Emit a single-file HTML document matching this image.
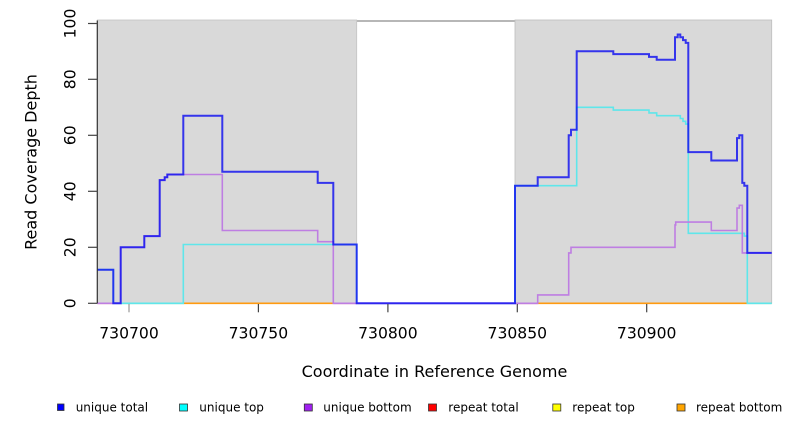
<!DOCTYPE html>
<html>
<head>
<meta charset="utf-8">
<style>
  html,body{margin:0;padding:0;background:#fff;}
  svg{display:block;}
  text{font-family:"DejaVu Sans","Liberation Sans",sans-serif;fill:#000;}
</style>
</head>
<body>
<svg width="792" height="432" viewBox="0 0 792 432" xmlns="http://www.w3.org/2000/svg">
  <line x1="97.3" y1="21" x2="771.7" y2="21" stroke="#8c8c8c" stroke-width="1.2"/>
  <rect x="97.3" y="20" width="259.4" height="283.3" fill="#d9d9d9" stroke="#c4c4c4" stroke-width="0.8"/>
  <rect x="515" y="20" width="256.7" height="283.3" fill="#d9d9d9" stroke="#bdbdbd" stroke-width="0.8"/>

  <g stroke-width="1.6" fill="none">
    <line x1="97.3" y1="303.3" x2="113.3" y2="303.3" stroke="#e0708a"/>
    <line x1="120.7" y1="303.3" x2="183.3" y2="303.3" stroke="#78d49a"/>
    <line x1="183.3" y1="303.3" x2="333.3" y2="303.3" stroke="#ff9a10"/>
    <line x1="333.3" y1="303.3" x2="356.7" y2="303.3" stroke="#d0508a"/>
    <line x1="515" y1="303.3" x2="537.7" y2="303.3" stroke="#d0508a"/>
    <line x1="537.7" y1="303.3" x2="747.3" y2="303.3" stroke="#ff9a10"/>
    <line x1="747.3" y1="303.3" x2="771.7" y2="303.3" stroke="#80d0a0"/>
  </g>

  <path fill="none" stroke="#5fe6ea" stroke-width="1.6" stroke-linejoin="miter"
    d="M97.3,269.7 H113.3 V303.3 H183.3 V244.5 H356.7 V303.3 H515 V185.7 H576.7 V107.3 H613.3 V110.1 H649 V112.9 H656.7 V115.7 H680.3 V118.5 H683 V121.3 H685.7 V124.1 H688.3 V233.3 H744.3 V236.1 H747.3 V303.3 H771.7"/>

  <path fill="none" stroke="#be7ee2" stroke-width="1.6" stroke-linejoin="miter"
    d="M97.3,303.3 H120.7 V247.3 H144.3 V236.1 H159.7 V180.1 H164.7 V177.3 H167.3 V174.5 H222.3 V230.5 H317.7 V241.7 H333.3 V303.3 H537.7 V294.9 H568.7 V252.9 H571 V247.3 H675 V224.9 H675.7 V222.1 H711.3 V230.5 H737 V208.1 H739.3 V205.3 H742.3 V252.9 H771.7"/>

  <path fill="none" stroke="#1010f0" stroke-opacity="0.82" stroke-width="2" stroke-linejoin="miter"
    d="M97.3,269.7 H113.3 V303.3 H120.7 V247.3 H144.3 V236.1 H159.7 V180.1 H164.7 V177.3 H167.3 V174.5 H183.3 V115.7 H222.3 V171.7 H317.7 V182.9 H333.3 V244.5 H356.7 V303.3 H515 V185.7 H537.7 V177.3 H568.7 V135.3 H571 V129.7 H576.7 V51.3 H613.3 V54.1 H649 V56.9 H656.7 V59.7 H675 V37.3 H677.7 V34.5 H680.3 V37.3 H683 V40.1 H685.7 V42.9 H688.3 V152.1 H711.3 V160.5 H737 V138.1 H739.3 V135.3 H742.3 V182.9 H744.3 V185.7 H747.3 V252.9 H771.7"/>

  <line x1="97.3" y1="20.5" x2="97.3" y2="303.3" stroke="#333" stroke-width="1.2"/>
  <g stroke="#444" stroke-width="1.2">
    <line x1="88" y1="303.3" x2="97.3" y2="303.3"/>
    <line x1="88" y1="247.3" x2="97.3" y2="247.3"/>
    <line x1="88" y1="191.3" x2="97.3" y2="191.3"/>
    <line x1="88" y1="135.3" x2="97.3" y2="135.3"/>
    <line x1="88" y1="79.3" x2="97.3" y2="79.3"/>
    <line x1="88" y1="23.5" x2="97.3" y2="23.5"/>
  </g>
  <g font-size="15.6" text-anchor="middle">
    <text transform="translate(75.5,303.3) rotate(-90)">0</text>
    <text transform="translate(75.5,247.3) rotate(-90)">20</text>
    <text transform="translate(75.5,191.3) rotate(-90)">40</text>
    <text transform="translate(75.5,135.3) rotate(-90)">60</text>
    <text transform="translate(75.5,79.3) rotate(-90)">80</text>
    <text transform="translate(75.5,23.5) rotate(-90)">100</text>
  </g>
  <text font-size="16" text-anchor="middle" transform="translate(36.5,162) rotate(-90)">Read Coverage Depth</text>

  <g stroke="#444" stroke-width="1.2">
    <line x1="129" y1="304" x2="129" y2="312.3" stroke="#999"/>
    <line x1="258.4" y1="304" x2="258.4" y2="312.3"/>
    <line x1="387.9" y1="304" x2="387.9" y2="312.3"/>
    <line x1="517.3" y1="304" x2="517.3" y2="312.3"/>
    <line x1="646.7" y1="304" x2="646.7" y2="312.3"/>
  </g>
  <g font-size="15.6" text-anchor="middle">
    <text x="129" y="338.3">730700</text>
    <text x="258.4" y="338.3">730750</text>
    <text x="387.9" y="338.3">730800</text>
    <text x="517.3" y="338.3">730850</text>
    <text x="646.7" y="338.3">730900</text>
  </g>
  <text font-size="16" text-anchor="middle" x="434.5" y="377">Coordinate in Reference Genome</text>

  <g stroke="#333" stroke-width="0.8">
    <rect x="57.5" y="404" width="6.5" height="6.5" fill="#0000ff"/>
    <rect x="179.5" y="404" width="8" height="7" fill="#00ffff"/>
    <rect x="304.3" y="404" width="8" height="7" fill="#a020f0"/>
    <rect x="428.5" y="404" width="8" height="7" fill="#ff0000"/>
    <rect x="552.8" y="404" width="8" height="7" fill="#ffff00"/>
    <rect x="677" y="404" width="8" height="7" fill="#ffa500"/>
  </g>
  <g font-size="12">
    <text x="75.7" y="411.5">unique total</text>
    <text x="199.3" y="411.5">unique top</text>
    <text x="323.3" y="411.5">unique bottom</text>
    <text x="448.3" y="411.5">repeat total</text>
    <text x="572.3" y="411.5">repeat top</text>
    <text x="696" y="411.5">repeat bottom</text>
  </g>
</svg>
</body>
</html>
